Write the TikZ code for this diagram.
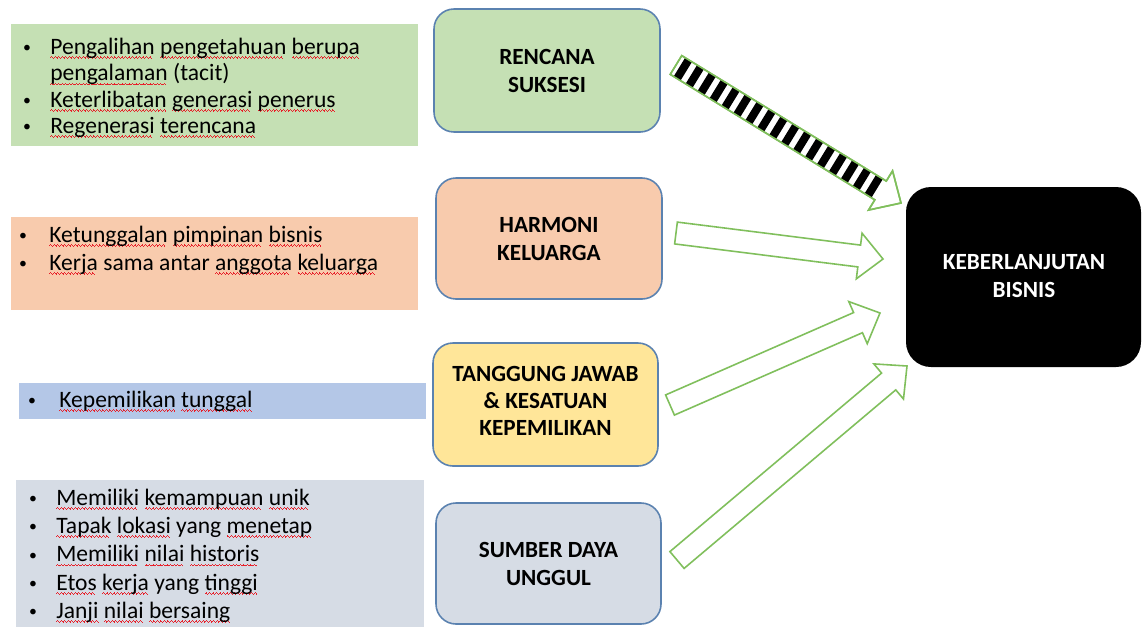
\documentclass[tikz,border=0pt]{standalone}
\usepackage{fontspec}
\setmainfont{Carlito}
\usetikzlibrary{calc}
\definecolor{gfill}{HTML}{C5E0B4}
\definecolor{ofill}{HTML}{F8CBAD}
\definecolor{bfill}{HTML}{B4C7E7}
\definecolor{sfill}{HTML}{D6DCE5}
\definecolor{yfill}{HTML}{FFE699}
\definecolor{bline}{HTML}{5B82B0}
\definecolor{aline}{HTML}{80BF5C}
\definecolor{wred}{HTML}{E8202A}
\newcommand\wv{\hbox{\rule[-2.3pt]{0.5pt}{0.5pt}\rule[-1.9pt]{0.5pt}{0.5pt}\rule[-2.3pt]{0.5pt}{0.5pt}\rule[-2.7pt]{0.5pt}{0.5pt}}}
\newcommand\sq[1]{\setbox0\hbox{#1}\rlap{\color{wred}\leaders\wv\hskip\wd0}\box0\relax}
\newcommand\blockarrow[3]{%
  \coordinate (#3h) at ($(#2)!0.48cm!(#1)$);
  \coordinate (#3t1) at ($(#1)!0.22cm!90:(#2)$);
  \coordinate (#3t2) at ($(#1)!0.22cm!-90:(#2)$);
  \coordinate (#3s1) at ($(#3h)!0.22cm!90:(#2)$);
  \coordinate (#3s2) at ($(#3h)!0.22cm!-90:(#2)$);
  \coordinate (#3b1) at ($(#3h)!0.46cm!90:(#2)$);
  \coordinate (#3b2) at ($(#3h)!0.46cm!-90:(#2)$);
}
\begin{document}
\begin{tikzpicture}[x=0.02cm,y=-0.02cm,
  txt/.style={anchor=base west,inner sep=0pt,font=\fontsize{13.4pt}{15pt}\selectfont},
  bul/.style={anchor=base,inner sep=0pt,font=\fontsize{9pt}{10pt}\selectfont,yshift=0.6pt},
  label/.style={rounded corners=0.4cm,draw=bline,line width=0.9pt},
  lbltext/.style={align=center,font=\fontsize{13.2pt}{15.5pt}\selectfont\bfseries},
  arrowline/.style={draw=aline,line width=0.9pt,fill=white,line join=miter}]
\useasboundingbox[fill=white] (0,0) rectangle (1143,626);
% text panels
\fill[gfill] (11,24) rectangle (418,146);
\fill[ofill] (11,217) rectangle (418,310);
\fill[bfill] (19,383) rectangle (426,419);
\fill[sfill] (16,480) rectangle (424,630);
% panel 1
\node[bul] (g1b) at (27,54) {\textbullet};
\node[txt] (g1) at (50,54) {\sq{Pengalihan} \sq{pengetahuan} \sq{berupa}};
\node[txt] (g2) at (50,80.5) {\sq{pengalaman} (tacit)};
\node[bul] (g3b) at (27,107) {\textbullet};
\node[txt] (g3) at (50,107) {\sq{Keterlibatan} \sq{generasi} \sq{penerus}};
\node[bul] (g4b) at (27,133) {\textbullet};
\node[txt] (g4) at (50,133) {\sq{Regenerasi} \sq{terencana}};
% panel 2
\node[bul] (o1b) at (23,242) {\textbullet};
\node[txt] (o1) at (49,242) {\sq{Ketunggalan} \sq{pimpinan} \sq{bisnis}};
\node[bul] (o2b) at (23,270) {\textbullet};
\node[txt] (o2) at (49,270) {\sq{Kerja} sama antar \sq{anggota} \sq{keluarga}};
% panel 3
\node[bul] (b1b) at (32,407) {\textbullet};
\node[txt] (b1) at (59,407) {\sq{Kepemilikan} \sq{tunggal}};
% panel 4
\node[bul] (s1b) at (33,505) {\textbullet};
\node[txt] (s1) at (56,505) {\sq{Memiliki} \sq{kemampuan} \sq{unik}};
\node[bul] (s2b) at (33,533) {\textbullet};
\node[txt] (s2) at (56,533) {\sq{Tapak} \sq{lokasi} yang \sq{menetap}};
\node[bul] (s3b) at (33,561.5) {\textbullet};
\node[txt] (s3) at (56,561.5) {\sq{Memiliki} \sq{nilai} \sq{historis}};
\node[bul] (s4b) at (33,590) {\textbullet};
\node[txt] (s4) at (56,590) {\sq{Etos} \sq{kerja} yang \sq{tinggi}};
\node[bul] (s5b) at (33,618) {\textbullet};
\node[txt] (s5) at (56,618) {\sq{Janji} \sq{nilai} \sq{bersaing}};
% label boxes
\draw[label,fill=gfill] (434,9) rectangle (660,132);
\node[lbltext] (rs) at (547,71) {RENCANA\\SUKSESI};
\draw[label,fill=ofill] (436,178) rectangle (662,299);
\node[lbltext] (hk) at (549,239) {HARMONI\\KELUARGA};
\draw[label,fill=yfill] (433,343) rectangle (658,466);
\node[lbltext] (tj) at (545.5,401) {TANGGUNG JAWAB\\\& KESATUAN\\KEPEMILIKAN};
\draw[label,fill=sfill] (436,503) rectangle (661,624);
\node[lbltext] (sd) at (548.5,564) {SUMBER DAYA\\UNGGUL};
\fill[black,rounded corners=0.5cm] (906,187) rectangle (1141,367);
\node[lbltext,text=white] (kb) at (1024,276) {KEBERLANJUTAN\\BISNIS};
% arrows
\coordinate (a1t) at (676,65); \coordinate (a1h) at (901,203);
\coordinate (a2t) at (676,233); \coordinate (a2h) at (883,259);
\coordinate (a3t) at (670,405); \coordinate (a3h) at (880,313);
\coordinate (a4t) at (677,560); \coordinate (a4h) at (907,366);
\blockarrow{a1t}{a1h}{p}
\blockarrow{a2t}{a2h}{q}
\blockarrow{a3t}{a3h}{r}
\blockarrow{a4t}{a4h}{u}
\path[arrowline] (pt1) -- (ps1) -- (pb1) -- (a1h) -- (pb2) -- (ps2) -- (pt2) -- cycle;
\begin{scope}
\clip (pt1) -- (ps1) -- (ps2) -- (pt2) -- cycle;
\draw[line width=0.5cm,dash pattern=on 0.16cm off 0.12cm,dash phase=-0.08cm] (a1t) -- (ph);
\end{scope}
\draw[draw=aline,line width=0.9pt,line join=miter] (pt1) -- (ps1) -- (pb1) -- (a1h) -- (pb2) -- (ps2) -- (pt2) -- cycle;
\path[arrowline] (qt1) -- (qs1) -- (qb1) -- (a2h) -- (qb2) -- (qs2) -- (qt2) -- cycle;
\path[arrowline] (rt1) -- (rs1) -- (rb1) -- (a3h) -- (rb2) -- (rs2) -- (rt2) -- cycle;
\path[arrowline] (ut1) -- (us1) -- (ub1) -- (a4h) -- (ub2) -- (us2) -- (ut2) -- cycle;
\end{tikzpicture}
\end{document}
